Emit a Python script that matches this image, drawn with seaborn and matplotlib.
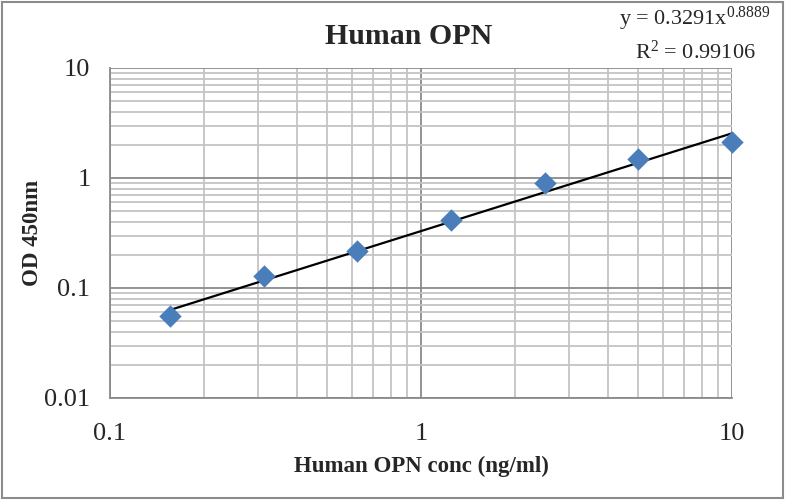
import matplotlib
matplotlib.use("Agg")
import matplotlib.pyplot as plt
import seaborn as sns
import numpy as np
import pandas as pd
from matplotlib.ticker import LogLocator, FixedFormatter, FixedLocator

conc = [0.156, 0.3125, 0.625, 1.25, 2.5, 5, 10]
od450 = [0.0556, 0.128, 0.217, 0.415, 0.90, 1.49, 2.13]
fit_a = 0.3291
fit_b = 0.8889
r_squared = "0.99106"
x_ticks = [0.1, 1, 10]
x_labels = ["0.1", "1", "10"]
y_ticks = [0.01, 0.1, 1, 10]
y_labels = ["0.01", "0.1", "1", "10"]

sns.set_style("white")
plt.rcParams["font.family"] = ["Liberation Serif", "DejaVu Serif"]
plt.rcParams["mathtext.fontset"] = "custom"
plt.rcParams["mathtext.rm"] = "Liberation Serif"
plt.rcParams["mathtext.it"] = "Liberation Serif:italic"

df = pd.DataFrame({"conc": conc, "od": od450})
fit_x = np.array([min(conc), max(conc)])
fit_df = pd.DataFrame({"conc": fit_x, "od": fit_a * fit_x ** fit_b})

fig = plt.figure(figsize=(7.85, 5), dpi=100)
ax = fig.add_axes([0.140, 0.204, 0.7925, 0.66])
fig.patches.append(plt.Rectangle((0.003, 0.004), 0.994, 0.992, transform=fig.transFigure,
                                 fill=False, edgecolor="#8c8c8c", linewidth=1.5))

ax.set_xscale("log")
ax.set_yscale("log")
ax.set_xlim(0.1, 10)
ax.set_ylim(0.01, 10)

sns.lineplot(data=fit_df, x="conc", y="od", color="black", linewidth=1.6, ax=ax, zorder=3)
sns.scatterplot(data=df, x="conc", y="od", marker="D", s=130, color="#4a7ebb",
                edgecolor="#4a7ebb", linewidth=0, ax=ax, zorder=4, clip_on=False)

ax.xaxis.set_major_locator(FixedLocator(x_ticks))
ax.xaxis.set_major_formatter(FixedFormatter(x_labels))
ax.yaxis.set_major_locator(FixedLocator(y_ticks))
ax.yaxis.set_major_formatter(FixedFormatter(y_labels))
ax.xaxis.set_minor_locator(LogLocator(base=10, subs=np.arange(2, 10)))
ax.yaxis.set_minor_locator(LogLocator(base=10, subs=np.arange(2, 10)))
ax.xaxis.set_minor_formatter(plt.NullFormatter())
ax.yaxis.set_minor_formatter(plt.NullFormatter())

ax.grid(which="major", color="#8a8a8a", linewidth=1.3)
ax.grid(which="minor", color="#c4c4c4", linewidth=1.3)
ax.set_axisbelow(True)
for side in ["top", "right"]:
    ax.spines[side].set_visible(False)
for side in ["left", "bottom"]:
    ax.spines[side].set_color("#8a8a8a")
    ax.spines[side].set_linewidth(1.3)
ax.tick_params(which="major", direction="out", length=5, width=1.3, color="#8a8a8a",
               labelsize=19, pad=9)
ax.tick_params(which="minor", length=0)
ax.tick_params(axis="x", pad=13)

ax.set_xlabel("Human OPN conc (ng/ml)", fontsize=16.5, fontweight="bold", labelpad=8)
ax.set_ylabel("OD 450nm", fontsize=16.5, fontweight="bold", labelpad=1)
fig.text(0.52, 0.928, "Human OPN", ha="center", va="center", fontsize=21.5, fontweight="bold")
fig.text(0.885, 0.962, "y = %.4fx$^{%.4f}$" % (fit_a, fit_b), ha="center", va="center", fontsize=16)
fig.text(0.886, 0.895, "R$^2$ = " + r_squared, ha="center", va="center", fontsize=16)

fig.savefig("out.png", dpi=100)
